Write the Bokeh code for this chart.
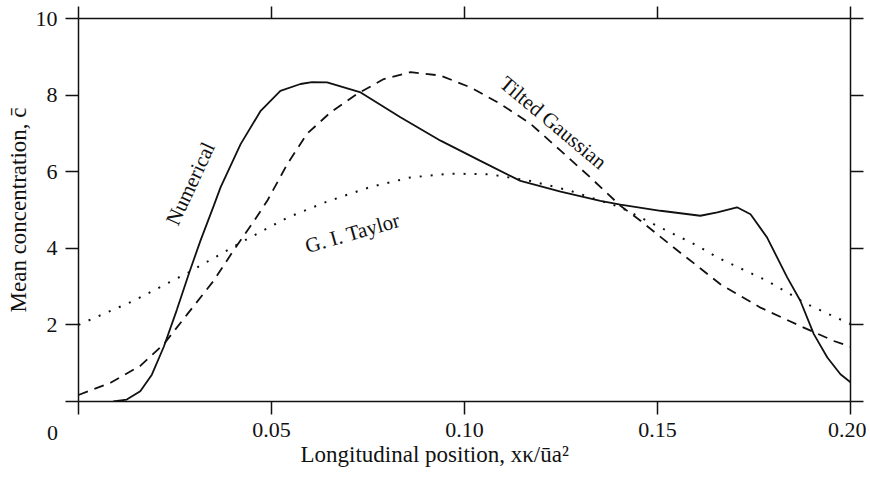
from bokeh.plotting import figure
from bokeh.models import Range1d, LinearAxis, FixedTicker, Label, Title
from bokeh.embed import file_html
from bokeh.resources import INLINE

# ---- data ----
num_x = [0.009, 0.0125, 0.016, 0.019, 0.0221, 0.0255, 0.0287, 0.0316, 0.035, 0.0368,
         0.042, 0.0472, 0.0523, 0.0575, 0.0605, 0.0644, 0.0731, 0.0834, 0.0938, 0.104,
         0.1145, 0.1249, 0.1352, 0.1404, 0.1508, 0.1611, 0.1655, 0.1706, 0.1741, 0.1784,
         0.1836, 0.187, 0.1905, 0.194, 0.1974, 0.2]
num_y = [0.0, 0.05, 0.27, 0.7, 1.43, 2.4, 3.37, 4.2, 5.1, 5.59,
         6.72, 7.59, 8.11, 8.29, 8.34, 8.33, 8.07, 7.42, 6.81, 6.29,
         5.76, 5.48, 5.24, 5.14, 4.98, 4.85, 4.94, 5.07, 4.89, 4.28,
         3.24, 2.63, 1.76, 1.15, 0.71, 0.5]

gauss_x = [0.0, 0.0083, 0.016, 0.0221, 0.0282, 0.035, 0.0402, 0.0454, 0.0489, 0.0541,
           0.0592, 0.0653, 0.0722, 0.0791, 0.086, 0.0938, 0.1016, 0.1093, 0.1171, 0.1249,
           0.1326, 0.1404, 0.1456, 0.1542, 0.1603, 0.1663, 0.1767, 0.187, 0.1957, 0.2]
gauss_y = [0.17, 0.49, 0.93, 1.5, 2.28, 3.15, 3.95, 4.7, 5.24, 6.2,
           6.99, 7.55, 8.03, 8.42, 8.6, 8.51, 8.2, 7.77, 7.25, 6.55,
           5.85, 5.11, 4.72, 4.02, 3.54, 3.06, 2.45, 1.97, 1.58, 1.43]

taylor_x = [0.0, 0.0143, 0.0287, 0.042, 0.0541, 0.0644, 0.0756, 0.086, 0.0964, 0.1067,
            0.1171, 0.1275, 0.1404, 0.1508, 0.1603, 0.1655, 0.1784, 0.1888, 0.2]
taylor_y = [2.0, 2.63, 3.38, 4.15, 4.8, 5.22, 5.6, 5.85, 5.95, 5.93,
            5.76, 5.5, 5.07, 4.54, 4.07, 3.76, 3.15, 2.54, 2.02]

x_ticks = [0, 0.05, 0.10, 0.15, 0.20]
x_tick_labels = ["", "0.05", "0.10", "0.15", "0.20"]
y_ticks = [0, 2, 4, 6, 8, 10]
y_tick_labels = ["", "2", "4", "6", "8", "10"]

x_title = "Longitudinal position, x\u03ba/\u016ba\u00b2"
y_title = "Mean concentration, c\u0304"
origin_label = "0"

FONT = "Liberation Serif"
INK = "#111111"

p = figure(frame_width=772, frame_height=383, output_backend="svg", toolbar_location=None,
           x_range=Range1d(0, 0.2), y_range=Range1d(0, 10),
           min_border_left=78, min_border_right=16, min_border_top=18, min_border_bottom=70,
           x_axis_type=None, y_axis_type=None)
p.outline_line_color = None
p.grid.visible = False
p.background_fill_color = "white"
p.border_fill_color = "white"


def style_axis(ax, ticks, labels, show_labels):
    ax.ticker = FixedTicker(ticks=ticks, minor_ticks=[])
    ax.major_label_overrides = {t: l for t, l in zip(ticks, labels)}
    ax.axis_line_color = INK
    ax.axis_line_width = 1.5
    ax.major_tick_line_color = INK
    ax.major_tick_line_width = 1.5
    ax.major_tick_in = 0
    ax.major_tick_out = 13
    ax.minor_tick_line_color = None
    ax.major_label_text_font = FONT
    ax.major_label_text_color = INK
    if show_labels:
        ax.major_label_text_font_size = "22px"
        ax.major_label_standoff = 8
    else:
        ax.major_label_text_font_size = "0px"
        ax.major_label_standoff = 0


bottom = LinearAxis()
style_axis(bottom, x_ticks, x_tick_labels, True)
p.add_layout(bottom, "below")
top = LinearAxis()
style_axis(top, x_ticks, ["" for _ in x_ticks], False)
top.major_tick_out = 12
p.add_layout(top, "above")
left = LinearAxis(axis_label=y_title, axis_label_text_font=FONT,
                  axis_label_text_font_size="23px", axis_label_text_font_style="normal",
                  axis_label_text_color=INK, axis_label_standoff=2)
style_axis(left, y_ticks, y_tick_labels, True)
p.add_layout(left, "left")
right = LinearAxis()
style_axis(right, y_ticks, ["" for _ in y_ticks], False)
p.add_layout(right, "right")

p.line(num_x, num_y, line_color=INK, line_width=1.8)
p.line(gauss_x, gauss_y, line_color=INK, line_width=1.8, line_dash="10 7")
p.line(taylor_x, taylor_y, line_color=INK, line_width=2, line_dash="2 9")


def lab(text, x, y, angle=0, xo=0, yo=0, size="21px"):
    return Label(x=x, y=y, x_offset=xo, y_offset=yo, text=text, angle=angle,
                 angle_units="deg", text_font=FONT, text_font_size=size,
                 text_color=INK, text_align="center", text_baseline="middle")


p.add_layout(lab("Numerical", 0.029, 5.69, angle=65))
p.add_layout(lab("Tilted Gaussian", 0.123, 7.28, angle=-40))
p.add_layout(lab("G. I. Taylor", 0.071, 4.4, angle=16))

p.add_layout(Title(text=x_title, align="left", offset=222, text_font=FONT,
                   text_font_size="23px", text_font_style="normal",
                   text_color=INK, standoff=0), "below")
p.add_layout(lab(origin_label, 0, 0, xo=-26, yo=-31, size="22px"), "below")

open("out.html", "w").write(file_html(p, INLINE))
